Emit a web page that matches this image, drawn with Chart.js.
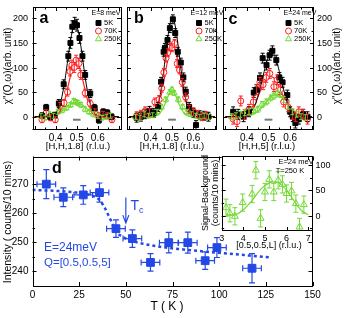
<!DOCTYPE html>
<html>
<head>
<meta charset="utf-8">
<script src="https://cdn.jsdelivr.net/npm/chart.js@4.4.0/dist/chart.umd.min.js"></script>
<style>
html, body { margin:0; padding:0; background:#fff; }
#fig { position:relative; width:344px; height:318px; overflow:hidden; font-family:"Liberation Sans", Arial, sans-serif; color:#000; }
#fig canvas { position:absolute; }
.t { position:absolute; white-space:nowrap; line-height:1; transform:translate(-50%,-50%); z-index:2; }
</style>
</head>
<body>
<div id="fig">
  <canvas id="pd" width="344" height="150" style="left:0;top:150px"></canvas>
  <canvas id="pe" width="144" height="100" style="left:200px;top:150px"></canvas>
  <canvas id="pa" width="126" height="142" style="left:0;top:0"></canvas>
  <canvas id="pb" width="100" height="142" style="left:122px;top:0"></canvas>
  <canvas id="pc" width="126" height="142" style="left:218px;top:0"></canvas>
</div>
<script>
// ---------- data ----------
// panel a : E = 8 meV, [H,H,1.8]
var aH5   = [0.335,0.355,0.375,0.395,0.415,0.438,0.46,0.47,0.479,0.49,0.501,0.513,0.527,0.54,0.564,0.585,0.605,0.626,0.645,0.665];
var aV5   = [2,19,0,3,27,66,123,150,183,190,186,160,123,85,47,18,-7,10,8,0];
var aE5   = [6,6,6,6,8,9,10,11,12,12,12,11,10,9,8,7,6,6,6,6];
var aH70  = [0.335,0.355,0.375,0.398,0.42,0.44,0.456,0.468,0.477,0.488,0.497,0.51,0.519,0.54,0.564,0.586,0.605,0.625,0.645,0.667];
var aV70  = [-6,8,-2,-6,22,28,50,92,105,100,115,108,85,48,27,10,2,5,2,-6];
var aE70  = [6,6,6,6,7,7,8,9,10,10,10,10,9,8,7,6,6,6,6,6];
var aH250 = [0.33,0.35,0.37,0.39,0.41,0.43,0.45,0.47,0.485,0.495,0.505,0.52,0.54,0.56,0.58,0.6,0.62,0.64,0.66];
var aV250 = [2,-2,5,2,10,13,18,24,32,30,28,24,15,10,5,2,-2,0,2];
var aE250 = 5;

// panel b : E = 12 meV, [H,H,1.8]
var bH5   = [0.335,0.355,0.375,0.395,0.415,0.435,0.449,0.461,0.467,0.479,0.49,0.504,0.515,0.527,0.541,0.553,0.564,0.58,0.6,0.612,0.63,0.65,0.67];
var bV5   = [-2,0,5,12,8,20,71,132,140,156,180,198,170,132,110,80,51,20,8,-17,3,2,0];
var bE5   = 9;
var bH70  = [0.335,0.355,0.375,0.395,0.42,0.44,0.452,0.462,0.472,0.48,0.49,0.5,0.512,0.524,0.535,0.548,0.564,0.58,0.6,0.62,0.64,0.66];
var bV70  = [2,5,12,8,30,35,58,90,119,130,142,140,149,108,95,70,40,15,10,5,0,2];
var bE70  = 8;
var bH250 = [0.33,0.35,0.37,0.39,0.41,0.43,0.45,0.47,0.49,0.5,0.51,0.53,0.55,0.57,0.59,0.61,0.63,0.65,0.67];
var bV250 = [0,-2,5,2,3,10,20,35,50,55,48,35,20,10,5,2,0,2,0];
var bE250 = 5;

// panel c : E = 24 meV, [H,H,5]
var cH5   = [0.337,0.36,0.385,0.41,0.432,0.445,0.461,0.473,0.491,0.505,0.518,0.536,0.55,0.565,0.587,0.6,0.612,0.624,0.64,0.66,0.68];
var cV5   = [10,5,0,10,49,55,79,119,105,125,134,115,80,70,44,10,0,-13,-5,5,0];
var cE5   = 10;
var cH70  = [0.337,0.355,0.372,0.39,0.41,0.43,0.445,0.46,0.475,0.49,0.506,0.525,0.54,0.555,0.57,0.59,0.61,0.625,0.64,0.66,0.68];
var cV70  = [-5,-10,32,5,15,30,55,70,65,80,88,61,75,55,30,20,5,0,10,5,-5];
var cE70  = 10;
var cH250 = [0.33,0.35,0.37,0.39,0.41,0.43,0.45,0.47,0.49,0.51,0.525,0.54,0.555,0.57,0.59,0.61,0.63,0.65,0.67];
var cV250 = [0,2,5,8,10,12,15,25,30,38,42,48,45,35,20,10,5,0,-2];
var cE250 = 6;

// fitted curves
var fitH    = [0.30,0.36,0.40,0.42,0.44,0.45,0.46,0.47,0.48,0.49,0.50,0.51,0.52,0.53,0.54,0.55,0.56,0.58,0.60,0.64,0.70];
var aFit5   = [0,0,7,24,64,92,124,153,176,187,184,168,142,111,80,54,33,10,2,0,0];
var aFit70  = [0,0,2,10,30,45,64,83,100,110,112,105,90,72,53,36,22,7,1,0,0];
var aFit250 = [0,1,5,9,15,19,22,25,27,28,28,27,25,22,19,15,12,7,3,0,0];
var bFit5   = [0,0,2,9,34,58,89,125,160,187,200,194,172,140,103,69,43,12,2,0,0];
var bFit70  = [0,0,2,9,28,45,67,92,115,133,143,140,127,106,82,58,38,13,3,0,0];
var bFit250 = [0,0,0,1,5,11,19,29,40,49,52,49,40,29,19,11,5,1,0,0,0];
var cFit5   = [0,0,3,10,26,39,55,73,92,109,122,129,129,122,109,92,73,39,17,2,0];
var cFit70  = [0,1,7,16,31,40,50,60,68,76,80,82,80,76,68,60,50,31,16,3,0];
var cFit250 = [0,0,1,3,7,11,15,19,25,30,35,40,43,45,45,43,40,30,19,5,0];

// instrument resolution bar
var resH = [0.482,0.518];
var resV = [-6,-6];

// tick values / labels of the top row
var topXTicks  = [0.3,0.35,0.4,0.45,0.5,0.55,0.6,0.65,0.7];
var topYTicks  = [-25,0,25,50,75,100,125,150,175,200];
var topYLabels = [0,50,100,150,200];

// panel d : intensity vs temperature
var dT    = [7.4,16.5,27.2,35.9,44.7,53.5,63.2,73,83.2,92.5,98.8,117.6];
var dI    = [270,265.5,266.3,267.1,254.7,251.3,243.1,249.9,249.9,243.7,248.2,241.1];
var dIErr = [5,3.2,3.2,3.3,3,3,3,3.5,3.6,3,3.4,5];
var dTErr = 5;
var dFitT = [0,15,25,32,36,39,42,45,48,51,56,65,80,100,128];
var dFitI = [268,267.6,267,266,264.5,261.5,257.5,253.5,252,251,250,248.8,247.6,246.4,244.8];
var tcT = 50, tcFrom = 265.4, tcTo = 256.6;
var dXTicks  = [0,25,50,75,100,125,150];
var dYTicks  = [240,245,250,255,260,265,270,275];
var dYLabels = [240,250,260,270];

// inset : L scan at 250 K
var iL    = [3.2,3.38,3.61,3.97,4.41,4.58,4.8,5.0,5.2,5.41,5.61,5.81,6.0,6.23,6.43,6.6,6.8];
var iV    = [16,5,-1,26,43,90,-5,47,72,47,70,62,44,49,24,-22,22];
var iErr  = 17;
var iFitL = [3.2,3.6,4.0,4.4,4.8,5.2,5.5,5.8,6.1,6.4,6.7,7.0];
var iFitV = [2,2,12,30,52,65,67,60,45,26,10,2];
var iXTicks  = [3,4,5,6,7];
var iYTicks  = [-25,0,25,50,75,100];
var iYLabels = [0,50,100];

var BLACK = '#000', RED = '#ff1f1f', GREEN = '#74d935', BLUE = '#2448e6';

Chart.defaults.font.family = '"Liberation Sans", Arial, sans-serif';
Chart.defaults.color = '#000';
Chart.defaults.animation = false;
Chart.defaults.plugins.legend.display = false;
Chart.defaults.plugins.tooltip.enabled = false;

var fig = document.getElementById('fig');

function pts(xs, ys) {
  return xs.map(function(x, i){ return {x: x, y: ys[i]}; });
}
function marks(xs, ys, err, color, style, fill, r) {
  return { data: pts(xs, ys), errY: err, showLine: false, pointStyle: style, pointRadius: r,
           borderColor: color, backgroundColor: fill, pointBorderWidth: 1 };
}
function line(xs, ys, color, w) {
  return { data: pts(xs, ys), showLine: true, pointRadius: 0, borderColor: color, borderWidth: w,
           cubicInterpolationMode: 'monotone', fill: false };
}
function isMajor(v, step) {
  if (!step) return true;
  var q = v / step;
  return Math.abs(q - Math.round(q)) < 1e-6;
}

// error bars, placed with the chart's own scales
var errorBars = {
  id: 'errorBars',
  afterDatasetsDraw: function(chart) {
    var ctx = chart.ctx, xs = chart.scales.x, ys = chart.scales.y, a = chart.chartArea;
    ctx.save();
    ctx.beginPath(); ctx.rect(a.left, a.top, a.right - a.left, a.bottom - a.top); ctx.clip();
    chart.data.datasets.forEach(function(ds){
      if (ds.errY == null && ds.errX == null) return;
      ctx.strokeStyle = ds.borderColor;
      ctx.lineWidth = ds.errWidth || 1;
      var cap = ds.cap || 2;
      ds.data.forEach(function(p, i){
        var px = xs.getPixelForValue(p.x), py = ys.getPixelForValue(p.y);
        ctx.beginPath();
        if (ds.errY != null) {
          var e = Array.isArray(ds.errY) ? ds.errY[i] : ds.errY;
          var y1 = ys.getPixelForValue(p.y + e), y2 = ys.getPixelForValue(p.y - e);
          ctx.moveTo(px, y1); ctx.lineTo(px, y2);
          ctx.moveTo(px - cap, y1); ctx.lineTo(px + cap, y1);
          ctx.moveTo(px - cap, y2); ctx.lineTo(px + cap, y2);
        }
        if (ds.errX != null) {
          var f = Array.isArray(ds.errX) ? ds.errX[i] : ds.errX;
          var x1 = xs.getPixelForValue(p.x - f), x2 = xs.getPixelForValue(p.x + f);
          ctx.moveTo(x1, py); ctx.lineTo(x2, py);
          ctx.moveTo(x1, py - cap); ctx.lineTo(x1, py + cap);
          ctx.moveTo(x2, py - cap); ctx.lineTo(x2, py + cap);
        }
        ctx.stroke();
      });
    });
    ctx.restore();
  }
};

// box around the plot with inward ticks on all sides
var frame = {
  id: 'frame',
  afterDraw: function(chart, args, opts) {
    var ctx = chart.ctx, a = chart.chartArea;
    var xs = chart.scales.x, ys = chart.scales.y;
    var xv = chart.$xTicks || xs.ticks.map(function(t){ return t.value; });
    var yv = chart.$yTicks || ys.ticks.map(function(t){ return t.value; });
    ctx.save();
    ctx.strokeStyle = '#000'; ctx.lineWidth = 1;
    ctx.strokeRect(Math.round(a.left) + 0.5, Math.round(a.top) + 0.5,
                   Math.round(a.right - a.left) - 1, Math.round(a.bottom - a.top) - 1);
    ctx.beginPath();
    xv.forEach(function(v){
      var len = isMajor(v, opts.xMajor) ? 4 : 2.5;
      var px = Math.round(xs.getPixelForValue(v)) + 0.5;
      ctx.moveTo(px, a.bottom); ctx.lineTo(px, a.bottom - len);
      ctx.moveTo(px, a.top); ctx.lineTo(px, a.top + len);
    });
    yv.forEach(function(v){
      var len = isMajor(v, opts.yMajor) ? 4 : 2.5;
      var py = Math.round(ys.getPixelForValue(v)) + 0.5;
      ctx.moveTo(a.left, py); ctx.lineTo(a.left + len, py);
      ctx.moveTo(a.right, py); ctx.lineTo(a.right - len, py);
    });
    ctx.stroke();
    ctx.restore();
  }
};

// white paper under the inset plot
var paper = {
  id: 'paper',
  beforeDraw: function(chart, args, opts) {
    if (!opts.fillColor) return;
    var a = chart.chartArea;
    chart.ctx.save();
    chart.ctx.fillStyle = opts.fillColor;
    chart.ctx.fillRect(a.left, a.top, a.right - a.left, a.bottom - a.top);
    chart.ctx.restore();
  }
};

// little key symbols next to the html key text
var keyMarks = {
  id: 'keyMarks',
  afterDraw: function(chart, args, opts) {
    if (!opts.items) return;
    var ctx = chart.ctx;
    opts.items.forEach(function(k){
      ctx.save();
      ctx.strokeStyle = k.color; ctx.fillStyle = k.fill; ctx.lineWidth = 1;
      Chart.helpers.drawPoint(ctx, {pointStyle: k.style, radius: k.r, borderWidth: 1}, k.x, k.y);
      ctx.restore();
    });
  }
};

Chart.register(errorBars, frame, paper, keyMarks);

// y tick labels as page text, placed from the y scale of a chart
function yLabels(chart, canvasId, side, pad, size, values) {
  var cv = document.getElementById(canvasId);
  var ox = parseFloat(cv.style.left) || 0, oy = parseFloat(cv.style.top) || 0;
  var ys = chart.scales.y, a = chart.chartArea;
  values.forEach(function(v){
    var d = document.createElement('div');
    d.className = 't';
    d.textContent = String(v);
    d.style.fontSize = size + 'px';
    d.style.top = (oy + ys.getPixelForValue(v)) + 'px';
    if (side === 'left') {
      d.style.left = (ox + a.left - pad) + 'px';
      d.style.transform = 'translate(-100%,-50%)';
    } else {
      d.style.left = (ox + a.right + pad) + 'px';
      d.style.transform = 'translate(0,-50%)';
    }
    fig.appendChild(d);
  });
}

function topPanel(id, sets, o) {
  var ch = new Chart(document.getElementById(id), {
    type: 'scatter',
    data: { datasets: sets },
    options: {
      responsive: false,
      devicePixelRatio: 1,
      layout: { padding: o.pad },
      scales: {
        x: {
          min: 0.29, max: 0.71,
          grid: { display: false, drawTicks: false }, border: { display: false },
          ticks: { stepSize: 0.05, includeBounds: false, autoSkip: false, maxRotation: 0, padding: 2,
                   font: { size: 10 },
                   callback: function(v){ var r = Math.round(v * 20); return (r % 2 === 0 && r >= 8 && r <= 12) ? (r / 20).toFixed(1) : ''; } },
          afterFit: function(s){ s.height = 12; }
        },
        y: {
          min: -27, max: 223, position: o.yPos,
          grid: { display: false, drawTicks: false }, border: { display: false },
          ticks: { display: false, stepSize: 25, includeBounds: false, autoSkip: false },
          afterFit: function(s){ s.width = o.yWidth; }
        }
      },
      plugins: { keyMarks: { items: o.keys }, frame: { xMajor: 0.1, yMajor: 50 } }
    }
  });
  ch.$xTicks = topXTicks;
  ch.$yTicks = topYTicks;
  ch.draw();
  return ch;
}

function keySet(x) {
  return [
    { style: 'rect', color: BLACK, fill: BLACK, r: 3.5, x: x, y: 23 },
    { style: 'circle', color: RED, fill: '#fff', r: 3, x: x, y: 31 },
    { style: 'triangle', color: GREEN, fill: '#fff', r: 3.5, x: x, y: 39 }
  ];
}

function panelSets(h5, v5, e5, h70, v70, e70, h250, v250, e250, f5, f70, f250) {
  return [
    marks(h5, v5, e5, BLACK, 'rect', BLACK, 3.5),
    line(fitH, f5, BLACK, 1),
    marks(h70, v70, e70, RED, 'circle', '#fff', 3),
    line(fitH, f70, RED, 1.2),
    marks(h250, v250, e250, GREEN, 'triangle', 'rgba(255,255,255,0)', 3.5),
    line(fitH, f250, GREEN, 1.2),
    line(resH, resV, '#777', 2)
  ];
}

var chA = topPanel('pa', panelSets(aH5, aV5, aE5, aH70, aV70, aE70, aH250, aV250, aE250, aFit5, aFit70, aFit250),
  { pad: { top: 7, right: 2, left: 0, bottom: 0 }, yPos: 'left', yWidth: 32.5, keys: keySet(98.5) });
topPanel('pb', panelSets(bH5, bV5, bE5, bH70, bV70, bE70, bH250, bV250, bE250, bFit5, bFit70, bFit250),
  { pad: { top: 7, right: 2, left: 2, bottom: 0 }, yPos: 'left', yWidth: 0, keys: keySet(77) });
var chC = topPanel('pc', panelSets(cH5, cV5, cE5, cH70, cV70, cE70, cH250, cV250, cE250, cFit5, cFit70, cFit250),
  { pad: { top: 7, right: 0, left: 2, bottom: 0 }, yPos: 'right', yWidth: 30, keys: keySet(70.5) });
yLabels(chA, 'pa', 'left', 4.5, 9, topYLabels);
yLabels(chC, 'pc', 'right', 3, 9, topYLabels);

// Tc arrow in panel d
var tcArrow = {
  id: 'tcArrow',
  afterDatasetsDraw: function(chart) {
    var ctx = chart.ctx;
    var x = chart.scales.x.getPixelForValue(tcT);
    var y1 = chart.scales.y.getPixelForValue(tcFrom), y2 = chart.scales.y.getPixelForValue(tcTo);
    ctx.save();
    ctx.strokeStyle = BLUE; ctx.lineWidth = 1.2;
    ctx.beginPath();
    ctx.moveTo(x, y1); ctx.lineTo(x, y2);
    ctx.moveTo(x - 3, y2 - 8); ctx.lineTo(x, y2); ctx.lineTo(x + 3, y2 - 8);
    ctx.stroke();
    ctx.restore();
  }
};

var dMarks = marks(dT, dI, dIErr, BLUE, 'rect', BLUE, 5.5);
dMarks.errX = dTErr; dMarks.cap = 3; dMarks.errWidth = 1.2;
var dLine = line(dFitT, dFitI, BLUE, 2.5);
dLine.borderDash = [3, 3];

var chD = new Chart(document.getElementById('pd'), {
  type: 'scatter',
  data: { datasets: [dMarks, dLine] },
  options: {
    responsive: false,
    devicePixelRatio: 1,
    layout: { padding: { top: 6, right: 31.5, left: 0, bottom: 0 } },
    scales: {
      x: {
        min: 0, max: 150,
        grid: { display: false, drawTicks: false }, border: { display: false },
        ticks: { stepSize: 25, autoSkip: false, maxRotation: 0, padding: 3, font: { size: 10 } },
        afterFit: function(s){ s.height = 14; }
      },
      y: {
        min: 235, max: 279.5,
        grid: { display: false, drawTicks: false }, border: { display: false },
        ticks: { display: false, stepSize: 5, includeBounds: false, autoSkip: false },
        afterFit: function(s){ s.width = 32.5; }
      }
    },
    plugins: { frame: { xMajor: 25, yMajor: 10 } }
  },
  plugins: [tcArrow]
});
chD.$xTicks = dXTicks;
chD.$yTicks = dYTicks;
chD.draw();
yLabels(chD, 'pd', 'left', 4, 10, dYLabels);

var iMarks = marks(iL, iV, iErr, GREEN, 'triangle', 'rgba(255,255,255,0)', 4);
iMarks.cap = 2.5;

var chE = new Chart(document.getElementById('pe'), {
  type: 'scatter',
  data: { datasets: [iMarks, line(iFitL, iFitV, GREEN, 1.2)] },
  options: {
    responsive: false,
    devicePixelRatio: 1,
    layout: { padding: { top: 6, right: 0, left: 21.7, bottom: 0 } },
    scales: {
      x: {
        min: 3, max: 7.2,
        grid: { display: false, drawTicks: false }, border: { display: false },
        ticks: { stepSize: 1, includeBounds: false, autoSkip: false, maxRotation: 0, padding: 2, font: { size: 9 } },
        afterFit: function(s){ s.height = 19; }
      },
      y: {
        min: -30, max: 118, position: 'right',
        grid: { display: false, drawTicks: false }, border: { display: false },
        ticks: { display: false, stepSize: 25, includeBounds: false, autoSkip: false },
        afterFit: function(s){ s.width = 31.5; }
      }
    },
    plugins: { paper: { fillColor: '#fff' }, frame: { xMajor: 1, yMajor: 50 } }
  }
});
chE.$xTicks = iXTicks;
chE.$yTicks = iYTicks;
chE.draw();
yLabels(chE, 'pe', 'right', 3, 9, iYLabels);

// ---------- text ----------
function txt(s, x, y, css) {
  var d = document.createElement('div');
  d.className = 't';
  d.innerHTML = s;
  d.style.left = x + 'px';
  d.style.top = y + 'px';
  if (css) d.style.cssText += css;
  fig.appendChild(d);
  return d;
}
var ROT = 'transform:translate(-50%,-50%) rotate(-90deg);';
var LEFT = 'transform:translate(0,-50%);';

// panel letters
txt('a', 44, 18, 'font-size:16px;font-weight:bold;');
txt('b', 139, 18, 'font-size:16px;font-weight:bold;');
txt('c', 233, 19, 'font-size:16px;font-weight:bold;');
txt('d', 57, 168, 'font-size:16px;font-weight:bold;');

// keys
txt('E=8 meV', 106, 12, 'font-size:7px;');
txt('E=12 meV', 207, 12, 'font-size:7px;');
txt('E=24 meV', 300, 12, 'font-size:7px;');
[104, 204.5, 294].forEach(function(x){
  txt('5K', x, 23, 'font-size:7.5px;' + LEFT);
  txt('70K', x, 31, 'font-size:7.5px;' + LEFT);
  txt('250K', x, 39, 'font-size:7.5px;' + LEFT);
});

// axis titles
txt('\u03c7"(Q,\u03c9)(arb. unit)', 8, 66, 'font-size:10px;' + ROT);
txt('\u03c7"(Q,\u03c9)(arb. unit)', 337, 66, 'font-size:10px;' + ROT);
txt('[H,H,1.8] (r.l.u.)', 78, 146, 'font-size:9.5px;');
txt('[H,H,1.8] (r.l.u.)', 172, 146, 'font-size:9.5px;');
txt('[H,H,5] (r.l.u.)', 267, 146, 'font-size:9.5px;');
txt('Intensity ( counts/10 mins)', 7, 222, 'font-size:10.5px;' + ROT);
txt('T ( K )', 167, 306, 'font-size:12px;');

// panel d annotations
txt('E=24meV', 44, 247, 'font-size:12px;color:' + BLUE + ';' + LEFT);
txt('Q=[0.5,0.5,5]', 44, 263, 'font-size:11.5px;color:' + BLUE + ';' + LEFT);
txt('T<sub style="font-size:9px;vertical-align:-3px">c</sub>', 137, 206, 'font-size:14px;color:' + BLUE + ';');

// inset annotations
txt('Signal-Background<br>(counts/10 mins)', 210, 193, 'font-size:9px;line-height:9.5px;text-align:center;' + ROT);
txt('[0.5,0.5,L] (r.l.u.)', 269, 245, 'font-size:9px;');
txt('E=24 meV', 296, 162, 'font-size:7.5px;');
txt('T=250 K', 290, 171, 'font-size:7.5px;');
</script>
</body>
</html>
